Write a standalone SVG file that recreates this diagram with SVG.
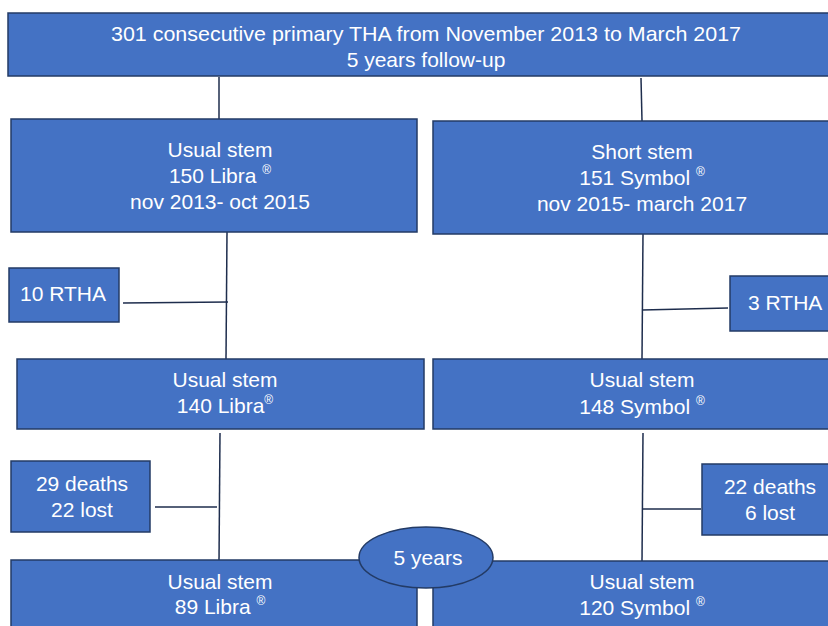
<svg xmlns="http://www.w3.org/2000/svg" width="828" height="626" viewBox="0 0 828 626">
<style>
.box{fill:#4472C4;stroke:#233B66;stroke-width:1.5}
.t{font-family:"Liberation Sans",Arial,sans-serif;font-size:21px;fill:#fff;text-anchor:middle}
.sup{font-size:12px}
.c{stroke:#1E2D4D;stroke-width:1.5;fill:none}
</style>
<rect width="828" height="626" fill="#fff"/>
<g id="connectors">
<line class="c" x1="219" y1="77" x2="219" y2="119"/>
<line class="c" x1="641" y1="78" x2="642" y2="121"/>
<line class="c" x1="227" y1="232" x2="226" y2="359"/>
<line class="c" x1="123" y1="303" x2="228" y2="302"/>
<line class="c" x1="643" y1="234" x2="642" y2="359"/>
<line class="c" x1="642" y1="310" x2="728" y2="308"/>
<line class="c" x1="220" y1="433" x2="219" y2="562"/>
<line class="c" x1="155" y1="507" x2="217" y2="507"/>
<line class="c" x1="643" y1="433" x2="642" y2="562"/>
<line class="c" x1="642" y1="509" x2="701" y2="509"/>
</g>
<g id="top">
<rect class="box" x="8" y="13" width="830" height="63"/>
<text class="t" x="426" y="41" textLength="630" lengthAdjust="spacingAndGlyphs">301 consecutive primary THA from November 2013 to March 2017</text>
<text class="t" x="426" y="67">5 years follow-up</text>
</g>
<g id="usual150">
<rect class="box" x="11" y="119" width="406" height="113"/>
<text class="t" x="220" y="157">Usual stem</text>
<text class="t" x="220" y="183">150 Libra <tspan class="sup" dy="-9">®</tspan></text>
<text class="t" x="220" y="209">nov 2013- oct 2015</text>
</g>
<g id="short151">
<rect class="box" x="433" y="121" width="405" height="113"/>
<text class="t" x="642" y="159">Short stem</text>
<text class="t" x="642" y="185">151 Symbol <tspan class="sup" dy="-9">®</tspan></text>
<text class="t" x="642" y="211">nov 2015- march 2017</text>
</g>
<g id="rtha10">
<rect class="box" x="9" y="268" width="110" height="54"/>
<text class="t" x="63" y="301">10 RTHA</text>
</g>
<g id="rtha3">
<rect class="box" x="730" y="276" width="108" height="55"/>
<text class="t" x="748" y="310" style="text-anchor:start">3 RTHA</text>
</g>
<g id="usual140">
<rect class="box" x="17" y="359" width="407" height="70"/>
<text class="t" x="225" y="387">Usual stem</text>
<text class="t" x="225" y="413">140 Libra<tspan class="sup" dy="-9">®</tspan></text>
</g>
<g id="usual148">
<rect class="box" x="433" y="359" width="405" height="70"/>
<text class="t" x="642" y="387">Usual stem</text>
<text class="t" x="642" y="414">148 Symbol <tspan class="sup" dy="-9">®</tspan></text>
</g>
<g id="loss1">
<rect class="box" x="11" y="461" width="139" height="71"/>
<text class="t" x="82" y="491">29 deaths</text>
<text class="t" x="82" y="517">22 lost</text>
</g>
<g id="loss2">
<rect class="box" x="702" y="464" width="136" height="71"/>
<text class="t" x="770" y="494">22 deaths</text>
<text class="t" x="770" y="520">6 lost</text>
</g>
<g id="usual89">
<rect class="box" x="11" y="560" width="406" height="80"/>
<text class="t" x="220" y="589">Usual stem</text>
<text class="t" x="220" y="614">89 Libra <tspan class="sup" dy="-9">®</tspan></text>
</g>
<g id="usual120">
<rect class="box" x="433" y="561" width="405" height="80"/>
<text class="t" x="642" y="589">Usual stem</text>
<text class="t" x="642" y="615">120 Symbol <tspan class="sup" dy="-9">®</tspan></text>
</g>
<g id="years5">
<ellipse class="box" cx="426" cy="557.5" rx="67" ry="30.5"/>
<text class="t" x="428" y="565">5 years</text>
</g>
</svg>
